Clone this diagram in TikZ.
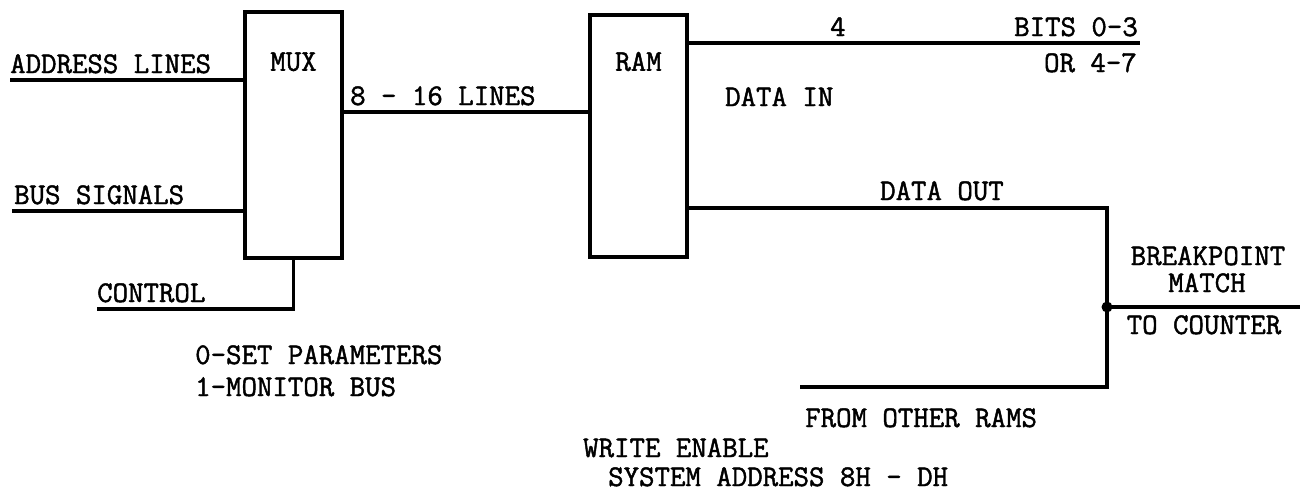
\documentclass[tikz,border=0pt]{standalone}
\usepackage{fontspec}
\setmonofont[FakeBold=1.5]{Latin Modern Mono}
\usetikzlibrary{calc,positioning}
\newcommand{\sigfont}{\fontsize{30}{34}\selectfont\ttfamily}
\tikzset{block/.style = {draw, fill=white, rectangle, line width=4.5pt,
                  inner sep=0pt, minimum width=97pt},
        wire/.style = {line width=3.2pt},
        output/.style = {coordinate}
    }

\begin{document}
\begin{tikzpicture}[x=1pt,y=-1pt]
    \tikzstyle{lbl} = [inner sep=0pt, text height=18pt, text depth=0pt, anchor=base west, font=\sigfont]
    \tikzstyle{rlbl} = [inner sep=0pt, text height=18pt, text depth=0pt, anchor=base east, font=\sigfont]
    \tikzstyle{clbl} = [inner sep=0pt, text height=18pt, text depth=0pt, anchor=base, font=\sigfont]

    \useasboundingbox (0,0) rectangle (1302,498);

    \node[block, minimum height=246pt] (mux) at (293.5,135) {};
    \node[block, minimum height=242pt] (ram) at (638.5,136) {};
    \node[clbl] (muxt) at ($(mux.north)+(0,61)$) {MUX};
    \node[clbl] (ramt) at ($(ram.north)+(0,58)$) {RAM};

    % inputs of the mux
    \coordinate (addr) at (10,80);
    \coordinate (bus) at (12,211);
    \coordinate (ctl) at (97,309);
    \draw[wire] (addr) -- (addr -| mux.west);
    \draw[wire] (bus) -- (bus -| mux.west);
    \draw[wire] (mux.south) -- (mux.south |- ctl) -- (ctl);
    \node[lbl] (addrt) at (10,73) {ADDRESS LINES};
    \node[lbl] (bust) at (14,204) {BUS SIGNALS};
    \node[lbl] (ctlt) at (97,302) {CONTROL};
    \node[lbl] (sett) at (195,364) {0-SET PARAMETERS};
    \node[lbl] (mont) at (195,396) {1-MONITOR BUS};

    % mux to ram
    \coordinate (lines) at (0,112);
    \draw[wire] (lines -| mux.east) -- (lines -| ram.west);
    \node[lbl] (linest) at (350,105) {8 - 16 LINES};

    % data in
    \coordinate (din) at (1140,43);
    \draw[wire] (din -| ram.east) -- (din);
    \node[lbl] (fourt) at (830,36) {4};
    \node[rlbl] (bitst) at (1138,36) {BITS 0-3};
    \node[rlbl] (ort) at (1137,72) {OR 4-7};
    \node[lbl] (dint) at (725,106) {DATA IN};

    % data out
    \coordinate (dout) at (1107,208);
    \coordinate (jn) at (1107,307);
    \coordinate (oth) at (1107,387);
    \coordinate (othend) at (800,387);
    \coordinate (cnt) at (1300,307);
    \draw[wire] (dout -| ram.east) -- (dout) -- (oth) -- (othend);
    \draw[wire] (jn) -- (cnt);
    \fill (jn) circle (5.5pt);
    \node[lbl] (doutt) at (880,200) {DATA OUT};
    \node[clbl] (bpt) at (1208,265) {BREAKPOINT};
    \node[clbl] (matcht) at (1207,292) {MATCH};
    \node[clbl] (cntt) at (1204,334) {TO COUNTER};
    \node[lbl] (otht) at (805,427) {FROM OTHER RAMS};
    \node[lbl] (wet) at (583,457) {WRITE ENABLE};
    \node[lbl] (sat) at (608,486) {SYSTEM ADDRESS 8H - DH};
\end{tikzpicture}
\end{document}
